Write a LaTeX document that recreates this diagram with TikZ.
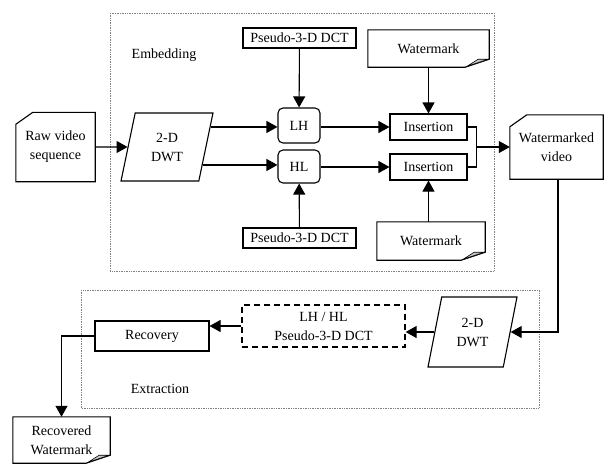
\documentclass[tikz,border=0pt]{standalone}
\usepackage{fontspec}
\setmainfont{Liberation Serif}
\usetikzlibrary{arrows.meta,shapes.geometric,calc}

\tikzset{
  blk/.style={draw, line width=1.1pt, inner sep=0pt, align=center},
  shell/.style={inner sep=0pt, align=center},
  para/.style={trapezium, draw, line width=1.1pt, trapezium left angle=76,
    trapezium right angle=104, trapezium stretches=true, inner sep=0pt, align=center},
  arr/.style={-{Triangle[length=11pt,width=12pt]}, line width=1.1pt},
  link/.style={line width=1.1pt},
  frame/.style={densely dotted, draw=gray, line width=0.7pt},
  outl/.style={line width=1.1pt},
  fold/.style={fill=gray!45, draw, line width=0.6pt}
}

% card: cut corner top left
\newcommand{\cardbox}[1]{%
  \draw[outl] ([yshift=-12pt]#1.north west) -- ([xshift=17pt]#1.north west)
    -- (#1.north east) -- (#1.south east) -- (#1.south west) -- cycle;}

% document: folded corner bottom right
\newcommand{\foldbox}[1]{%
  \draw[outl] (#1.north west) -- (#1.north east) -- ([yshift=8pt]#1.south east)
    -- ([xshift=-24pt]#1.south east) -- (#1.south west) -- cycle;
  \filldraw[fold] ([xshift=-22pt,yshift=1pt]#1.south east) -- ([xshift=-1pt,yshift=8pt]#1.south east)
    -- ([xshift=-11pt,yshift=8pt]#1.south east) -- cycle;}

\begin{document}
\begin{tikzpicture}[x=1pt,y=-1pt,font=\fontsize{14}{19}\selectfont]
\useasboundingbox (0,0) rectangle (605,464);

% Embedding
\draw[frame] (110,13) rectangle (494,271);
\node (embed) at (164,55) {Embedding};

\node[shell, minimum width=79, minimum height=69] (raw) at (55.5,147) {Raw video\\sequence};
\cardbox{raw}
\node[para, minimum width=92, minimum height=68] (dwt) at (167,147) {2-D\\DWT};

\node[blk, rounded corners=5pt, minimum width=42, minimum height=35] (lh) at (299,125.5) {LH};
\node[blk, rounded corners=5pt, minimum width=42, minimum height=33] (hl) at (299,166.5) {HL};
\node[blk, minimum width=113, minimum height=20] (dcta) at (299.5,38) {Pseudo-3-D DCT};
\node[blk, minimum width=113, minimum height=20] (dctb) at (299.5,238) {Pseudo-3-D DCT};

\node[blk, minimum width=77, minimum height=26] (insa) at (428.5,127) {Insertion};
\node[blk, minimum width=77, minimum height=26] (insb) at (428.5,167) {Insertion};
\node[shell, minimum width=121, minimum height=37] (wma) at (428.5,48.5) {Watermark};
\foldbox{wma}
\node[shell, minimum width=108, minimum height=38] (wmb) at (431,241) {Watermark};
\foldbox{wmb}

\node[shell, minimum width=93, minimum height=64] (wmv) at (556.5,147) {Watermarked\\video};
\cardbox{wmv}

\draw[arr] (raw) -- (dwt);
\coordinate (dwtup) at ($(dwt.bottom right corner)!0.79!(dwt.top right corner)$);
\coordinate (dwtdn) at ($(dwt.bottom right corner)!0.24!(dwt.top right corner)$);
\draw[arr] (dwtup) -- (dwtup -| lh.west);
\draw[arr] (dwtdn) -- (dwtdn -| hl.west);
\draw[arr] (dcta) -- (lh);
\draw[arr] (dctb) -- (hl);
\draw[arr] (insa.west -| lh.east) -- (insa.west);
\draw[arr] (insb.west -| hl.east) -- (insb.west);
\draw[arr] (wma) -- (insa);
\draw[arr] (insb |- wmb.north) -- (insb.south);
\coordinate (join) at ($(insa.east)!0.5!(insb.east)+(9,0)$);
\draw[link] (insa.east) -| (join) |- (insb.east);
\draw[arr] (join) -- (join -| wmv.west);

% Extraction
\draw[frame] (81,290) rectangle (539,408);
\node (extr) at (160,389) {Extraction};

\node[para, minimum width=89, minimum height=70] (dwtb) at (472.5,332) {2-D\\DWT};
\node[blk, dash pattern=on 6pt off 4pt, line width=1.3pt, minimum width=163, minimum height=42] (lhhl) at (323.5,326) {LH / HL\\Pseudo-3-D DCT};
\node[blk, minimum width=114, minimum height=30] (rec) at (152,336) {Recovery};
\node[shell, minimum width=97, minimum height=46] (recwm) at (61.5,440) {Recovered\\Watermark};
\foldbox{recwm}

\draw[arr] (wmv.south -| 558,0) |- (dwtb.east);
\draw[arr] (dwtb.west) -- (dwtb.west -| lhhl.east);
\draw[arr] (lhhl.west) -- (lhhl.west -| rec.east);
\draw[arr] (rec.west) -| (recwm.north);

\end{tikzpicture}
\end{document}
